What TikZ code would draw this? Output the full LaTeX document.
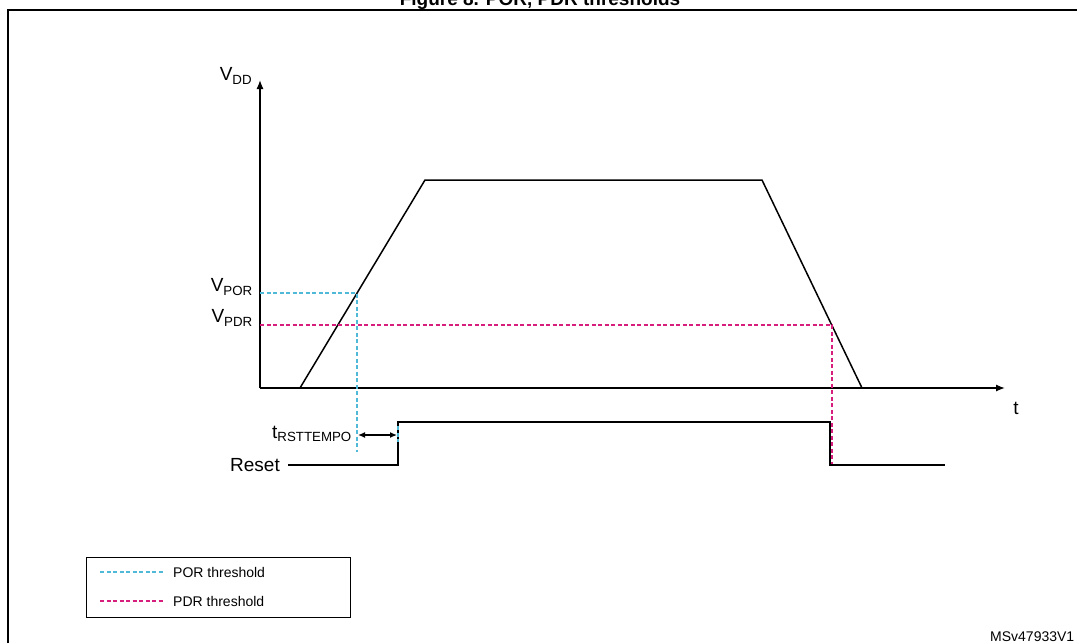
\documentclass[tikz,border=0pt]{standalone}
\usepackage{fontspec}
\usetikzlibrary{arrows.meta}
\setmainfont{Liberation Sans}
\definecolor{porc}{RGB}{80,185,215}
\definecolor{pdrc}{RGB}{215,30,125}
\begin{document}
\begin{tikzpicture}[x=1pt,y=-1pt,
  ln/.style={line width=1.5pt},
  por/.style={draw=porc,dash pattern=on 4pt off 2.5pt,line width=1.1pt},
  pdr/.style={draw=pdrc,dash pattern=on 4pt off 2.5pt,line width=1.1pt},
  dbl/.style={{Latex[length=7pt,width=6pt]}-{Latex[length=7pt,width=6pt]}},
  axis/.style={line width=1.3pt,-{Latex[length=9pt,width=7pt]}},
  lbl/.style={font=\fontsize{19}{21}\selectfont,inner sep=0pt},
  small/.style={font=\fontsize{14}{16}\selectfont,inner sep=0pt,anchor=west}]
\useasboundingbox (0,0) rectangle (1077,643);
\begin{scope}
\clip (0,0) rectangle (1077,643);
\node[font=\bfseries\fontsize{19}{21}\selectfont,anchor=base] (title) at (540,5) {Figure 8. POR, PDR thresholds};
\end{scope}
\draw[line width=1.4pt] (8,643) -- (8,10) -- (1077,10);
% axes
\coordinate (o) at (260,388);
\coordinate (ytop) at (260,80);
\coordinate (xend) at (1005,388);
\draw[axis] (o) -- (ytop);
\draw[axis] (o) -- (xend);
\node[lbl] (vdd) at (236,76) {V\textsubscript{DD}};
\node[lbl] (t) at (1016,408) {t};
% trapezoid
\coordinate (a) at (300,388);
\coordinate (b) at (425,180);
\coordinate (c) at (762,180);
\coordinate (d) at (862,388);
\draw[ln] (a) -- (b) -- (c) -- (d);
% thresholds
\coordinate (p1) at (357,293);
\coordinate (p2) at (832,325);
\draw[por] (260,293) -- (p1) -- (357,452);
\draw[pdr] (260,325) -- (p2) -- (832,465);
\node[lbl,anchor=east] (vpor) at (253,287) {V\textsubscript{POR}};
\node[lbl,anchor=east] (vpdr) at (253,318) {V\textsubscript{PDR}};
% reset
\draw[ln] (288,465) -- (398,465) -- (398,422) -- (830,422) -- (830,465) -- (945,465);
\node[lbl,anchor=east] (reset) at (280,465) {Reset};
\draw[por] (398,426) -- (398,442);
\coordinate (ta) at (358,435);
\coordinate (tb) at (397,435);
\draw[line width=1.3pt,dbl] (ta) -- (tb);
\node[lbl,anchor=east] (trst) at (352,434) {t\textsubscript{RSTTEMPO}};
% legend
\draw[line width=1pt] (86,557) rectangle (350,617);
\draw[por] (100,572) -- (163,572);
\draw[pdr] (100,601) -- (163,601);
\node[small] (l1) at (173,572) {POR threshold};
\node[small] (l2) at (173,601) {PDR threshold};
\node[small] (ms) at (990,637) {MSv47933V1};
\end{tikzpicture}
\end{document}
